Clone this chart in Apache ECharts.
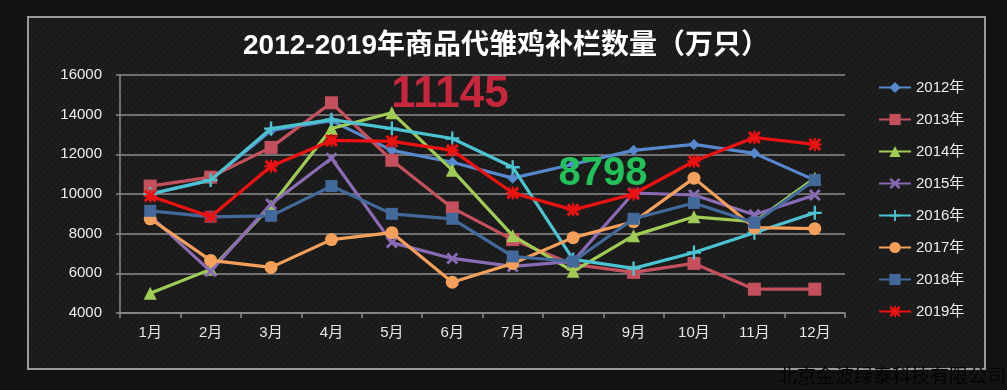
<!DOCTYPE html>
<html>
<head>
<meta charset="utf-8">
<script src="https://cdn.jsdelivr.net/npm/echarts@6/dist/echarts.min.js"></script>
<style>
html,body{margin:0;padding:0;background:#131313;}
#chart{width:1007px;height:390px;}
</style>
</head>
<body>
<div id="chart"></div>
<script>
const months = ['1月','2月','3月','4月','5月','6月','7月','8月','9月','10月','11月','12月'];
const y2012 = [10000, 10700, 13200, 13700, 12200, 11600, 10800, 11500, 12200, 12500, 12050, 10700];
const y2013 = [10400, 10850, 12350, 14600, 11700, 9300, 7700, 6450, 6050, 6500, 5200, 5200];
const y2014 = [5000, 6200, 9400, 13300, 14100, 11200, 7900, 6100, 7900, 8850, 8600, 10800];
const y2015 = [8900, 6100, 9500, 11800, 7550, 6750, 6350, 6600, 10050, 9950, 8950, 9950];
const y2016 = [10000, 10700, 13300, 13750, 13300, 12800, 11350, 6700, 6250, 7050, 8050, 9050];
const y2017 = [8750, 6650, 6300, 7700, 8050, 5550, 6500, 7800, 8600, 10800, 8300, 8250];
const y2018 = [9150, 8850, 8900, 10400, 9000, 8750, 6850, 6600, 8750, 9550, 8550, 10700];
const y2019 = [9900, 8850, 11400, 12700, 12650, 12200, 10050, 9200, 10000, 11650, 12850, 12500];
const seriesNames = ['2012年','2013年','2014年','2015年','2016年','2017年','2018年','2019年'];
const titleText = '2012-2019年商品代雏鸡补栏数量（万只）';
const note1 = '11145';
const note2 = '8798';
const watermark = '北京金波绿泰科技有限公司';

const colors = ['#5588cc','#c4505e','#a0cc55','#8a6bb5','#4cc3d0','#f5a05a','#42699a','#ee1111'];
const symX = 'path://M0,2 L2,0 L6,4 L10,0 L12,2 L8,6 L12,10 L10,12 L6,8 L2,12 L0,10 L4,6 Z';
const symPlus = 'path://M5,0 H7 V5 H12 V7 H7 V12 H5 V7 H0 V5 H5 Z';
const symStar = 'path://M0,2 L2,0 L6,4 L10,0 L12,2 L8,6 L12,10 L10,12 L6,8 L2,12 L0,10 L4,6 Z M5,0 H7 V12 H5 Z M0,5 H12 V7 H0 Z';
const symbols = ['diamond','rect','triangle',symX,symPlus,'circle','rect',symStar];
const sizes = [11,13,13,12,14,13,12,13];
const datasets = [y2012,y2013,y2014,y2015,y2016,y2017,y2018,y2019];

// carbon texture
const pc = document.createElement('canvas');
pc.width = 6; pc.height = 6;
const pctx = pc.getContext('2d');
pctx.fillStyle = '#1a1a1a'; pctx.fillRect(0,0,6,6);
pctx.strokeStyle = '#232323'; pctx.lineWidth = 1.2;
pctx.beginPath(); pctx.moveTo(0,6); pctx.lineTo(6,0); pctx.stroke();
pctx.beginPath(); pctx.moveTo(-3,3); pctx.lineTo(3,-3); pctx.stroke();
pctx.beginPath(); pctx.moveTo(3,9); pctx.lineTo(9,3); pctx.stroke();

const font = '"Liberation Sans", "Noto Sans CJK SC", sans-serif';
const chart = echarts.init(document.getElementById('chart'));
chart.setOption({
  backgroundColor: '#131313',
  animation: false,
  grid: {left: 120, right: 162, top: 75, bottom: 77},
  legend: {
    orient: 'vertical', left: 873, top: 75,
    itemWidth: 32, itemHeight: 14, itemGap: 17.0,
    data: seriesNames,
    textStyle: {color: '#eeeeee', fontSize: 15, fontFamily: font, lineHeight: 14}
  },
  xAxis: {
    type: 'category', data: months, boundaryGap: true,
    axisLine: {lineStyle: {color: '#8a8a8a', width: 1.5}},
    axisTick: {show: true, length: 5, lineStyle: {color: '#8a8a8a', width: 1.5}},
    axisLabel: {color: '#e6e6e6', fontSize: 15, fontFamily: font, margin: 12}
  },
  yAxis: {
    type: 'value', min: 4000, max: 16000, interval: 2000,
    axisLine: {show: true, lineStyle: {color: '#8a8a8a', width: 1.5}},
    axisTick: {show: true, length: 4, lineStyle: {color: '#8a8a8a', width: 1.5}},
    axisLabel: {color: '#eeeeee', fontSize: 15, fontFamily: font, margin: 18,
                formatter: v => String(v)},
    splitLine: {lineStyle: {color: '#8c8c8c', width: 1.5}}
  },
  graphic: [
    {type: 'rect', z: -10, shape: {x: 28, y: 17, width: 957, height: 352},
     style: {fill: {image: pc, repeat: 'repeat'}, stroke: '#9a9a9a', lineWidth: 2}},
    {type: 'text', z: 10, x: 506, y: 46,
     style: {text: titleText, fill: '#ffffff', font: 'bold 28px ' + font,
             textAlign: 'center', textVerticalAlign: 'middle',
             shadowColor: 'rgba(0,0,0,0.8)', shadowBlur: 3, shadowOffsetX: 1, shadowOffsetY: 1}},
    {type: 'text', z: 100, x: 450, y: 95,
     style: {text: note1, fill: '#c8263c', font: 'bold 44px ' + font,
             textAlign: 'center', textVerticalAlign: 'middle',
             shadowColor: 'rgba(0,0,0,0.6)', shadowBlur: 2, shadowOffsetX: 1, shadowOffsetY: 1}},
    {type: 'text', z: 100, x: 603, y: 174,
     style: {text: note2, fill: '#22c25a', font: 'bold 40px ' + font,
             textAlign: 'center', textVerticalAlign: 'middle',
             shadowColor: 'rgba(0,0,0,0.6)', shadowBlur: 2, shadowOffsetX: 1, shadowOffsetY: 1}},
    {type: 'text', z: 100, x: 778, y: 366,
     style: {text: watermark, fill: '#050505', font: '19px "Noto Sans CJK SC", sans-serif',
             textAlign: 'left', textVerticalAlign: 'top'}}
  ],
  series: seriesNames.map((name, i) => ({
    name: name, type: 'line', data: datasets[i],
    symbol: symbols[i], symbolSize: sizes[i], showAllSymbol: true,
    lineStyle: {color: colors[i], width: 3.2},
    itemStyle: {color: colors[i]},
    z: 2 + i
  }))
});
</script>
</body>
</html>
